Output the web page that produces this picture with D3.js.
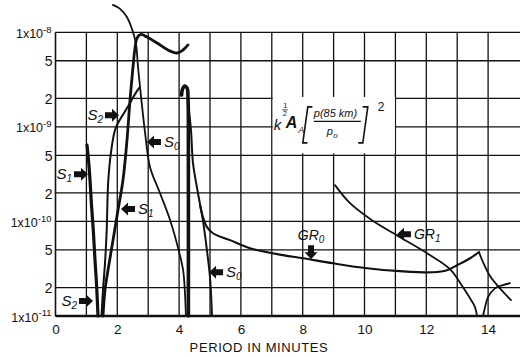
<!DOCTYPE html>
<html><head><meta charset="utf-8">
<script src="https://cdn.jsdelivr.net/npm/d3@7"></script>
<style>
html,body{margin:0;padding:0;background:#fff;}
svg{display:block;font-family:"Liberation Sans",Arial,sans-serif;}
</style></head><body>
<svg id="chart" width="520" height="357"></svg>
<script>
// Each branch: [period in minutes, amplitude factor]
const s0Upper = [[1.86,1.95e-8],[2.09,1.77e-8],[2.31,1.45e-8],[2.51,1.0e-8],[2.61,7.3e-9],[2.67,4.3e-9],[2.78,1.92e-9],[2.90,8.6e-10],[3.06,3.75e-10],[3.38,2.0e-10],[3.71,1.03e-10],[3.96,5.35e-11],[4.13,3.05e-11],[4.19,1.74e-11],[4.22,1e-11]];
const s0Peak = [[4.08,2.17e-9],[4.11,2.51e-9],[4.175,2.70e-9],[4.256,2.58e-9],[4.29,1.92e-9],[4.30,4.46e-10],[4.30,1e-11]];
const s0Lower = [[4.30,1.70e-9],[4.385,9.2e-10],[4.45,4.14e-10],[4.61,2.0e-10],[4.77,1.03e-10],[4.90,4.97e-11],[5.0,2.57e-11],[5.065,1e-11]];
const s1Left = [[1.02,6.41e-10],[1.068,4.46e-10],[1.117,2.74e-10],[1.165,1.49e-10],[1.223,8.1e-11],[1.278,3.9e-11],[1.333,2.02e-11],[1.375,1e-11]];
const s1Main = [[1.537,1e-11],[1.602,1.88e-11],[1.699,3.05e-11],[1.861,6.34e-11],[2.023,1.32e-10],[2.184,2.74e-10],[2.314,7.25e-10],[2.411,1.92e-9],[2.508,4.3e-9],[2.573,6.8e-9],[2.638,8.7e-9],[2.767,9.5e-9],[2.961,8.9e-9],[3.285,7.7e-9],[3.641,6.5e-9],[3.932,6.04e-9],[4.126,6.5e-9],[4.288,7.35e-9]];
const s2Main = [[1.489,1e-11],[1.537,1.88e-11],[1.602,3.62e-11],[1.657,8.1e-11],[1.709,2.74e-10],[1.819,6.1e-10],[1.926,9.25e-10],[2.023,1.10e-9],[2.217,1.40e-9],[2.411,1.79e-9],[2.573,2.22e-9],[2.702,2.57e-9]];
const gr0Main = [[4.676,1.49e-10],[4.773,1.11e-10],[4.903,8.7e-11],[5.097,7.5e-11],[5.647,6.34e-11],[6.294,5.21e-11],[7.362,4.40e-11],[8.01,4.08e-11],[8.981,3.61e-11],[10.081,3.20e-11],[11.149,2.98e-11],[12.217,2.90e-11],[12.67,3.05e-11],[12.994,3.44e-11],[13.414,4.08e-11],[13.706,4.73e-11]];
const gr0Tail = [[13.706,4.73e-11],[13.835,3.71e-11],[14.061,2.65e-11],[14.385,1.96e-11],[14.741,1.47e-11]];
const gr1Main = [[9.045,2.42e-10],[9.531,1.56e-10],[10.243,1.03e-10],[11.149,6.82e-11],[12.023,4.61e-11],[12.767,3.13e-11],[13.188,2.01e-11],[13.414,1.54e-11],[13.576,1.24e-11],[13.641,1e-11]];
const gr1Tail = [[13.835,1e-11],[13.9,1.24e-11],[13.997,1.58e-11],[14.223,1.96e-11],[14.482,2.12e-11],[14.709,2.22e-11]];

const xTicks = [0,2,4,6,8,10,12,14];
const xGrid = [1,2,3,4,5,6,7,8,9,10,11,12,13,14];
const yTicks = [1e-11,2e-11,5e-11,1e-10,2e-10,5e-10,1e-9,2e-9,5e-9,1e-8];

// Mode labels with arrow tips in data units
const modeLabels = [
  {name:"S", sub:"2", at:[2.055,1.33e-9], dir:"right"},
  {name:"S", sub:"1", at:[1.052,3.16e-10], dir:"right"},
  {name:"S", sub:"2", at:[1.214,1.44e-11], dir:"right"},
  {name:"S", sub:"1", at:[2.12,1.35e-10], dir:"left"},
  {name:"S", sub:"0", at:[2.96,6.9e-10], dir:"left"},
  {name:"S", sub:"0", at:[4.97,2.9e-11], dir:"left"},
  {name:"GR", sub:"1", at:[11.05,7.34e-11], dir:"left"},
  {name:"GR", sub:"0", at:[8.27,3.99e-11], dir:"down"}
];

const svg = d3.select("#chart");
const x = d3.scaleLinear().domain([0,15]).range([55.5,519]);
const y = d3.scaleLog().domain([1e-11,1e-8]).range([316,32.3]);
const ink = "#111";

// grid
const grid = svg.append("g").attr("stroke", ink).attr("stroke-width", 1.3).attr("fill","none");
grid.selectAll("line.h").data(yTicks).join("line")
  .attr("x1", x(0)).attr("x2", 520)
  .attr("y1", d => y(d)).attr("y2", d => y(d));
grid.selectAll("line.v").data(xGrid).join("line")
  .attr("x1", d => x(d)).attr("x2", d => x(d))
  .attr("y1", y(1e-8)).attr("y2", y(1e-11));
grid.append("line").attr("x1", x(0)).attr("x2", x(0))
  .attr("y1", y(1e-8)).attr("y2", y(1e-11)).attr("stroke-width", 1.6);

// x axis
const gx = svg.append("g").attr("transform", `translate(0,${y(1e-11)})`)
  .call(d3.axisBottom(x).tickValues(xTicks).tickSize(0).tickPadding(8).tickFormat(d3.format("d")));
gx.select(".domain").attr("stroke", ink).attr("stroke-width", 2.6).attr("d", `M${x(0)},0H520`);
gx.selectAll(".tick text").attr("font-size", 13.5).attr("fill", ink).attr("font-family", "Liberation Sans, Arial, sans-serif");

svg.append("text").attr("x", 259).attr("y", 352).attr("text-anchor","middle")
  .attr("font-size", 13).attr("letter-spacing", 0.6).attr("fill", ink).text("PERIOD IN MINUTES");

// y axis labels
const gy = svg.append("g").attr("transform", `translate(${x(0)},0)`)
  .call(d3.axisLeft(y).tickValues(yTicks).tickSize(0).tickPadding(3).tickFormat(() => ""));
gy.select(".domain").remove();
gy.selectAll(".tick text").each(function(d) {
  const e = Math.floor(Math.log10(d) + 1e-9);
  const m = Math.round(d / Math.pow(10, e));
  const t = d3.select(this).attr("fill", ink).attr("font-family", "Liberation Sans, Arial, sans-serif");
  if (m === 1) {
    t.attr("font-size", 12.5).attr("dy", "0.4em").attr("x", -4);
    t.append("tspan").text("1x10");
    t.append("tspan").attr("font-size", 9.5).attr("dy", "-0.55em").text(String(e));
  } else {
    t.attr("font-size", 14).attr("dy", "0.36em").attr("x", -3).text(String(m));
  }
});

// formula box
const bx0 = x(7), bx1 = x(11), by0 = y(2e-9), by1 = y(5e-10);
svg.append("rect").attr("x", bx0 + 1).attr("y", by0 - 1.5).attr("width", bx1 - bx0 - 1.5).attr("height", by1 - by0 - 0.5).attr("fill", "#fff");
const f = svg.append("g").attr("transform", `translate(${bx0},${by0})`).attr("fill", ink).attr("font-style","italic");
f.append("text").attr("x", 2).attr("y", 32).attr("font-size", 15).text("k");
f.append("text").attr("x", 11.5).attr("y", 10).attr("font-size", 7.5).attr("font-style","normal").text("1");
f.append("line").attr("x1", 10.5).attr("x2", 16).attr("y1", 11.5).attr("y2", 11.5).attr("stroke", ink).attr("stroke-width", 0.8);
f.append("text").attr("x", 11).attr("y", 18).attr("font-size", 7.5).attr("font-style","normal").text("2");
f.append("text").attr("x", 14).attr("y", 30).attr("font-size", 16).attr("font-weight","bold").text("A");
f.append("text").attr("x", 26.5).attr("y", 35).attr("font-size", 9).text("A");
// square brackets
const br = f.append("g").attr("fill","none").attr("stroke", ink).attr("stroke-width", 1.6).attr("stroke-linecap","round");
br.append("path").attr("d", "M40,8.5L36,8.5L31,44.5L35,44.5");
br.append("path").attr("d", "M91.5,8.5L96,8.5L91,44.5L87,44.5");
f.append("text").attr("x", 42).attr("y", 19).attr("font-size", 11).text("p(85 km)");
f.append("line").attr("x1", 42).attr("x2", 89).attr("y1", 23).attr("y2", 23).attr("stroke", ink).attr("stroke-width", 1.1);
f.append("text").attr("x", 55).attr("y", 37).attr("font-size", 11).text("p");
f.append("text").attr("x", 61.5).attr("y", 40).attr("font-size", 8).text("o");
f.append("text").attr("x", 106).attr("y", 13).attr("font-size", 12).attr("font-style","normal").text("2");

// curves
const line = d3.line().x(d => x(d[0])).y(d => y(d[1])).curve(d3.curveCatmullRom.alpha(0.5));
const curves = [
  {data: s1Left, w: 3.2},
  {data: s2Main, w: 2.0},
  {data: s1Main, w: 2.8},
  {data: s0Upper, w: 1.8},
  {data: s0Peak, w: 3.6},
  {data: s0Lower, w: 2.0},
  {data: gr0Main, w: 2.1},
  {data: gr0Tail, w: 1.8},
  {data: gr1Main, w: 1.8},
  {data: gr1Tail, w: 1.8}
];
svg.append("g").attr("fill","none").attr("stroke", ink).attr("stroke-linecap","round").attr("stroke-linejoin","round")
  .selectAll("path").data(curves).join("path")
  .attr("d", d => line(d.data)).attr("stroke-width", d => d.w);

// arrows and mode names
const arrowShape = "M0,0L-7,-6.5L-7,-3L-14,-3L-14,3L-7,3L-7,6.5Z";
const lab = svg.append("g").attr("fill", ink);
modeLabels.forEach(m => {
  const px = x(m.at[0]), py = y(m.at[1]);
  const rot = m.dir === "right" ? 0 : m.dir === "left" ? 180 : 90;
  lab.append("path").attr("d", arrowShape).attr("transform", `translate(${px},${py}) rotate(${rot})`);
  const t = lab.append("text").attr("font-style","italic").attr("font-size", m.name === "GR" ? 14 : 15);
  if (m.dir === "right") t.attr("x", px - 16).attr("y", py + 5).attr("text-anchor","end");
  else if (m.dir === "left") t.attr("x", px + 17).attr("y", py + 5);
  else t.attr("x", px).attr("y", py - 19).attr("text-anchor","middle");
  t.append("tspan").text(m.name);
  t.append("tspan").attr("font-size", 10).attr("dy", 3).text(m.sub);
});
</script>
</body></html>
